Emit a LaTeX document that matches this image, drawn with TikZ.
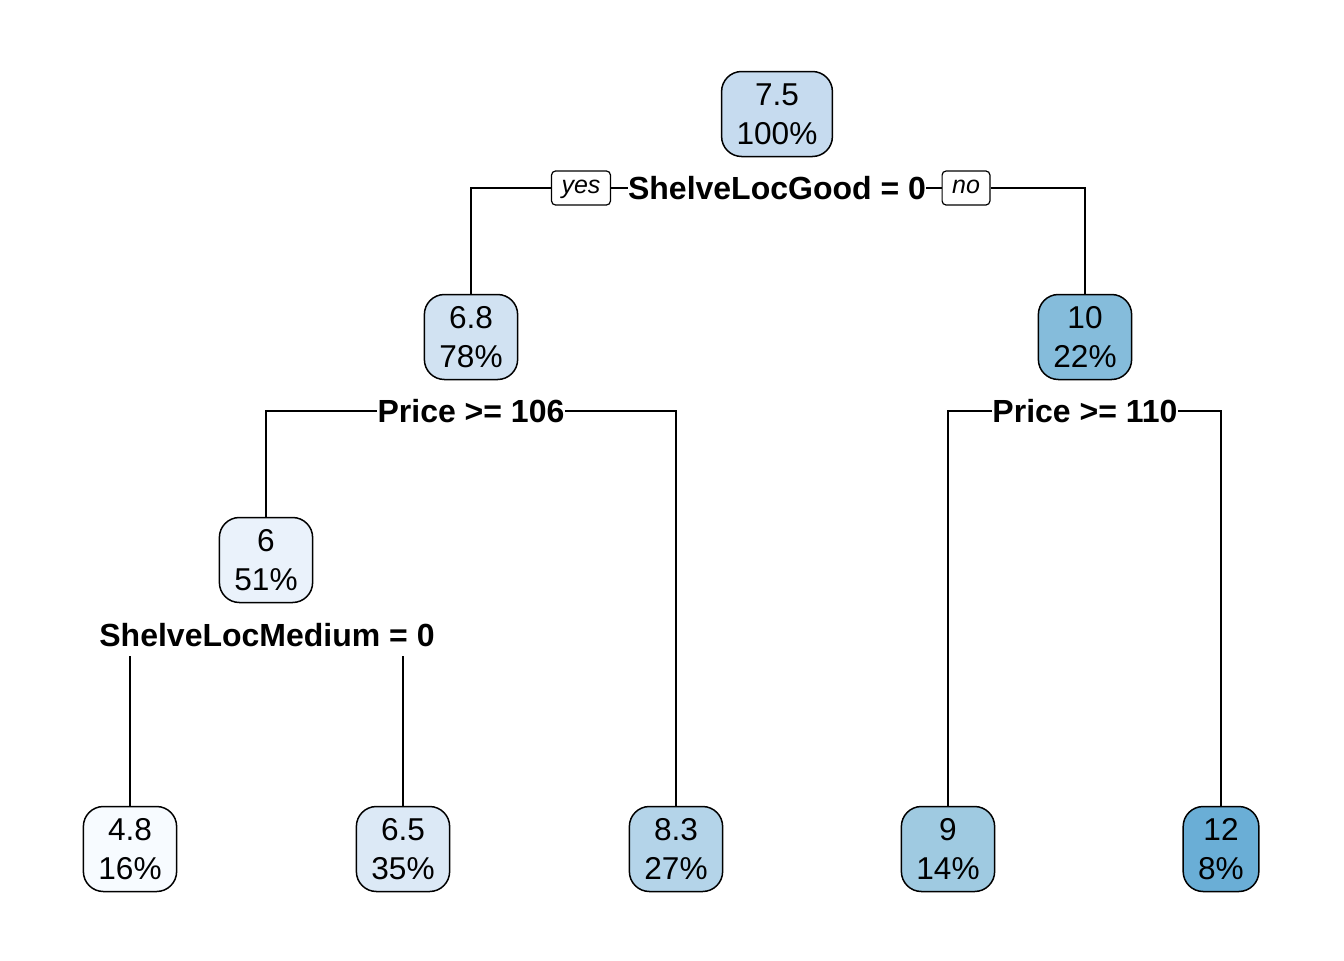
\documentclass[tikz,border=0pt]{standalone}
\usepackage{fontspec}
\setmainfont{Liberation Sans}
\definecolor{blueA}{HTML}{F7FBFF}
\definecolor{blueB}{HTML}{EAF2FB}
\definecolor{blueC}{HTML}{DCE9F6}
\definecolor{blueD}{HTML}{D1E2F2}
\definecolor{blueE}{HTML}{C6DBEF}
\definecolor{blueF}{HTML}{B4D4E9}
\definecolor{blueG}{HTML}{9FCAE1}
\definecolor{blueH}{HTML}{85BCDB}
\definecolor{blueI}{HTML}{6AAED6}

\begin{document}
\begin{tikzpicture}[x=0.5pt,y=-0.5pt,
  treenode/.style={draw, line width=0.75pt, rounded corners=10pt, align=center,
    minimum height=42.5pt, inner xsep=7.5pt, font=\fontsize{15.8}{19.5}\selectfont},
  splitlabel/.style={inner sep=0pt, font=\fontsize{16}{18}\selectfont\bfseries},
  branchtag/.style={draw, line width=0.6pt, rounded corners=2pt, minimum height=17pt,
    inner xsep=5pt, inner ysep=0pt, text height=8pt, text depth=2.5pt,
    font=\fontsize{12.5}{15}\selectfont\itshape}]
\useasboundingbox (0,0) rectangle (1344,960);

% nodes
\node[treenode, fill=blueE] (n75) at (777,114) {7.5\\100\%};
\node[treenode, fill=blueD] (n68) at (471,337) {6.8\\78\%};
\node[treenode, fill=blueH] (n10) at (1085,337) {10\\22\%};
\node[treenode, fill=blueB] (n6) at (266,560) {6\\51\%};
\node[treenode, fill=blueA] (n48) at (130,849) {4.8\\16\%};
\node[treenode, fill=blueC] (n65) at (403,849) {6.5\\35\%};
\node[treenode, fill=blueF] (n83) at (676,849) {8.3\\27\%};
\node[treenode, fill=blueG] (n9) at (948,849) {9\\14\%};
\node[treenode, fill=blueI] (n12) at (1221,849) {12\\8\%};

% split labels
\node[splitlabel] (split1) at (777,188) {ShelveLocGood = 0};
\node[branchtag] (yes) at (581,188) {yes};
\node[branchtag] (no) at (966,188) {no};
\node[splitlabel] (split2) at (471,411) {Price >= 106};
\node[splitlabel] (split3) at (1085,411) {Price >= 110};
\node[splitlabel] (split4) at (267,635) {ShelveLocMedium = 0};

% branches
\draw[line width=0.75pt] (yes.west) -| (n68.north);
\draw[line width=0.75pt] (yes.east) -- (split1.west);
\draw[line width=0.75pt] (split1.east) -- (no.west);
\draw[line width=0.75pt] (no.east) -| (n10.north);

\draw[line width=0.75pt] (split2.west) -| (n6.north);
\draw[line width=0.75pt] (split2.east) -| (n83.north);
\draw[line width=0.75pt] (split3.west) -| (n9.north);
\draw[line width=0.75pt] (split3.east) -| (n12.north);

\draw[line width=0.75pt] ([yshift=-4.5pt]split4.south -| n48.north) -- (n48.north);
\draw[line width=0.75pt] ([yshift=-4.5pt]split4.south -| n65.north) -- (n65.north);

\end{tikzpicture}
\end{document}
